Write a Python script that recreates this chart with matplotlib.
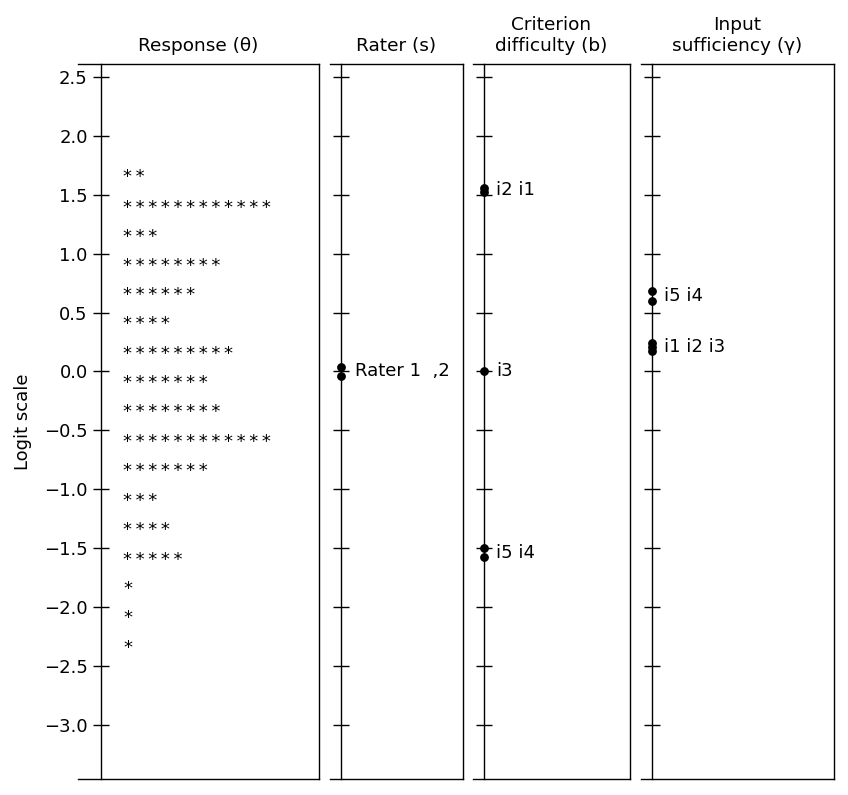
import matplotlib
matplotlib.use("Agg")
import matplotlib.pyplot as plt
import numpy as np

# person (theta) histogram: bin centres and counts
theta_bins = [1.677, 1.413, 1.167, 0.921, 0.675, 0.429, 0.174, -0.072, -0.318,
              -0.573, -0.819, -1.074, -1.320, -1.575, -1.821, -2.067, -2.322]
theta_counts = [2, 12, 3, 8, 6, 4, 9, 7, 8, 12, 7, 3, 4, 5, 1, 1, 1]

# rater severity
rater_vals = [0.04, -0.035]
rater_label = "Rater 1  ,2"

# criterion difficulty
crit_names = ["i1", "i2", "i3", "i4", "i5"]
crit_vals = [1.52, 1.555, 0.0, -1.575, -1.50]

# input sufficiency
suff_names = ["i1", "i2", "i3", "i4", "i5"]
suff_vals = [0.245, 0.21, 0.17, 0.60, 0.68]

titles = ["Response (\u03b8)", "Rater (s)", "Criterion\ndifficulty (b)", "Input\nsufficiency (\u03b3)"]
yticks = np.arange(-3.0, 2.51, 0.5)

plt.rcParams['font.size'] = 13
plt.rcParams['axes.linewidth'] = 1.0

fig = plt.figure(figsize=(8.48, 7.95), dpi=100)
W, H = 848.0, 795.0
top, bot = 64, 779
boxes = [(78, 319), (330, 463), (473, 630), (641, 834)]
spine_px = [101, 341, 484, 652]
axes = []
for k, ((x0, x1), sp) in enumerate(zip(boxes, spine_px)):
    ax = fig.add_axes([x0 / W, 1 - bot / H, (x1 - x0) / W, (bot - top) / H])
    ax.set_xlim(0, 1)
    ax.set_ylim(-3.46, 2.61)
    pos = (sp - x0) / float(x1 - x0)
    ax.spines['left'].set_position(('axes', pos))
    ax.set_xticks([])
    ax.set_yticks(yticks)
    ax.tick_params(axis='y', direction='inout', length=11, width=1.0, pad=4)
    ax.set_title(titles[k], fontsize=13.3, pad=9.5)
    ax._spx = pos
    axes.append(ax)

for ax in axes[1:]:
    ax.set_yticklabels([])

axes[0].set_ylabel("Logit scale", fontsize=13)
axes[0].yaxis.set_label_coords(-0.19, 0.5)


def grouped(ax, names, vals, off):
    x = ax._spx
    ax.plot([x] * len(vals), vals, 'o', color='black', markersize=5.3, clip_on=False)
    order = np.argsort(vals)[::-1]
    groups = []
    for i in order:
        if groups and abs(vals[groups[-1][-1]] - vals[i]) < 0.15:
            groups[-1].append(i)
        else:
            groups.append([i])
    trans = ax.get_yaxis_transform()
    for g in groups:
        y = np.mean([vals[i] for i in g])
        ax.annotate(" ".join(names[i] for i in g), xy=(x, y), xycoords=trans,
                    xytext=(off, 0), textcoords='offset points', va='center', ha='left', fontsize=13)


# theta stars
ax = axes[0]
for y, n in zip(theta_bins, theta_counts):
    ax.annotate("\u2009".join(["*"] * n), xy=(ax._spx, y), xycoords=ax.get_yaxis_transform(),
                xytext=(16, -2), textcoords='offset points', va='center', ha='left', fontsize=13)

# rater
ax = axes[1]
ax.plot([ax._spx] * len(rater_vals), rater_vals, 'o', color='black', markersize=5.3)
ax.annotate(rater_label, xy=(ax._spx, np.mean(rater_vals)), xycoords=ax.get_yaxis_transform(),
            xytext=(10, 0), textcoords='offset points', va='center', ha='left', fontsize=13)

grouped(axes[2], crit_names, crit_vals, 9)
grouped(axes[3], suff_names, suff_vals, 9)

fig.savefig("out.png", dpi=100)
